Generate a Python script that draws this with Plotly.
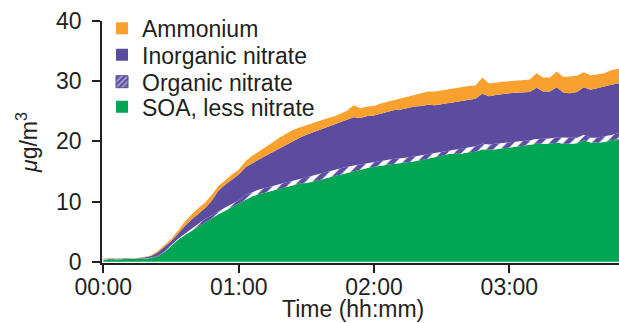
import plotly.graph_objects as go

# time in minutes since start
time_min = [0, 3, 6, 9, 12, 15, 18, 21, 24, 27, 30, 33, 36, 39, 42, 45, 48, 51, 54, 57,
            60, 63, 66, 69, 72, 75, 78, 81, 84, 87, 90, 93, 96, 99, 102, 105, 108, 111, 114, 117,
            120, 123, 126, 129, 132, 135, 138, 141, 144, 147, 150, 153, 156, 159, 162, 165, 168, 171, 174, 177,
            180, 183, 186, 189, 192, 195, 198, 201, 204, 207, 210, 213, 216, 219, 222, 225, 229]

soa = [0.40, 0.42, 0.40, 0.41, 0.42, 0.45, 0.50, 0.62, 0.90, 1.6, 2.6, 3.6, 4.4, 5.1, 5.9, 6.6, 7.3, 7.9, 8.5, 9.1,
       9.6, 10.3, 10.9, 11.2, 11.5, 11.7, 12.0, 12.3, 12.6, 13.0, 13.1, 13.3, 13.6, 13.9, 14.2, 14.5, 14.8, 15.0, 15.3, 15.6,
       15.8, 16.0, 16.1, 16.3, 16.4, 16.5, 16.7, 16.9, 17.1, 17.3, 17.6, 17.9, 17.9, 18.0, 18.2, 18.3, 18.7, 18.6, 18.7, 18.9,
       19.0, 19.1, 19.3, 19.4, 19.6, 19.6, 19.6, 19.8, 19.6, 19.6, 19.7, 20.2, 19.8, 19.8, 19.9, 20.2, 20.4]
org_nitrate = [0.05, 0.05, 0.05, 0.05, 0.05, 0.05, 0.05, 0.06, 0.10, 0.10, 0.15, 0.2, 0.2, 0.3, 0.4, 0.5, 0.4, 0.5, 0.5, 0.5,
               0.6, 0.8, 0.7, 0.8, 0.8, 0.9, 0.9, 0.8, 0.8, 0.8, 1.0, 1.0, 1.0, 1.0, 1.0, 1.0, 1.0, 1.0, 0.9, 0.8,
               0.8, 0.8, 0.8, 0.8, 0.8, 0.8, 0.8, 0.8, 0.8, 0.7, 0.6, 0.5, 0.7, 0.8, 0.8, 0.9, 0.9, 0.9, 0.9, 0.8,
               0.8, 0.8, 0.8, 0.8, 0.8, 0.8, 0.9, 0.9, 1.0, 1.0, 0.9, 0.9, 0.8, 0.8, 0.9, 0.9, 1.0]
inorg_nitrate = [0.05, 0.05, 0.05, 0.05, 0.05, 0.10, 0.15, 0.27, 0.5, 0.7, 0.65, 0.8, 1.3, 1.6, 1.7, 1.8, 2.4, 3.4, 3.8, 4.0,
                 4.3, 4.6, 4.8, 5.0, 5.3, 5.6, 6.0, 6.4, 6.6, 6.8, 7.0, 7.2, 7.4, 7.4, 7.5, 7.6, 7.7, 8.0, 7.7, 7.8,
                 7.7, 7.8, 8.0, 8.1, 8.1, 8.3, 8.3, 8.2, 8.2, 8.0, 8.0, 8.0, 8.0, 8.0, 8.0, 7.9, 8.3, 8.0, 8.1, 8.2,
                 8.2, 8.2, 8.1, 8.0, 8.5, 7.9, 7.8, 8.3, 7.5, 7.4, 7.6, 7.9, 8.0, 8.2, 8.3, 8.3, 8.3]
ammonium = [0.05, 0.05, 0.05, 0.05, 0.05, 0.05, 0.10, 0.10, 0.25, 0.3, 0.35, 0.5, 0.7, 0.8, 0.9, 0.9, 1.0, 0.8, 0.8, 0.9,
            0.8, 1.0, 1.2, 1.3, 1.5, 1.6, 1.7, 1.8, 1.9, 1.7, 1.6, 1.6, 1.4, 1.5, 1.4, 1.5, 1.6, 2.0, 1.6, 1.6,
            1.6, 1.7, 1.7, 1.7, 1.9, 1.9, 1.9, 2.1, 2.2, 2.3, 2.3, 2.3, 2.3, 2.2, 2.2, 2.2, 2.7, 2.1, 2.1, 2.0,
            2.0, 2.0, 2.1, 2.1, 2.4, 2.3, 2.3, 2.6, 2.6, 2.8, 2.7, 2.5, 2.4, 2.3, 2.2, 2.4, 2.4]

tick_vals = [0, 60, 120, 180]
tick_text = ["00:00", "01:00", "02:00", "03:00"]
y_ticks = [0, 10, 20, 30, 40]

names = ["SOA, less nitrate", "Organic nitrate", "Inorganic nitrate", "Ammonium"]
series = [soa, org_nitrate, inorg_nitrate, ammonium]
colors = ["#00a651", "#5b4c9f", "#5b4c9f", "#f8a12e"]
legends = ["legend4", "legend3", "legend2", "legend"]

FONT = "Liberation Sans, Arial, Helvetica, sans-serif"
INK = "#231f20"
FS = 23

fig = go.Figure()
for name, vals, col in zip(names, series, colors):
    kw = {}
    if name == "Organic nitrate":
        kw["fillpattern"] = dict(shape="/", fgcolor="#ffffff", bgcolor=col, size=10,
                                 solidity=0.5, fillmode="replace")
    fig.add_trace(go.Scatter(x=time_min, y=vals, name=name, mode="lines", stackgroup="one",
                             line=dict(width=0, color=col), fillcolor=col, showlegend=False,
                             hoverinfo="skip", **kw))

# legend entries
for name, col, lg in zip(names, colors, legends):
    marker = dict(color=col, line=dict(width=0))
    if name == "Organic nitrate":
        marker = dict(color=col, line=dict(width=1, color=col),
                      pattern=dict(shape="/", fgcolor="white", bgcolor=col, size=5, solidity=0.45))
    fig.add_trace(go.Bar(x=[None], y=[None], name=name, marker=marker, legend=lg, showlegend=True))

leg_common = dict(xanchor="left", yanchor="middle", bgcolor="rgba(0,0,0,0)",
                  font=dict(family=FONT, size=FS, color=INK), borderwidth=0)
ys = [0.97, 0.86, 0.749, 0.645]
layout_legends = {}
for lg, yy in zip(["legend", "legend2", "legend3", "legend4"], ys):
    layout_legends[lg] = dict(x=0.0, y=yy, **leg_common)

fig.update_layout(
    width=619, height=323,
    margin=dict(l=102, r=0, t=21, b=60, autoexpand=False),
    paper_bgcolor="white", plot_bgcolor="white",
    font=dict(family=FONT, size=FS, color=INK),
    **layout_legends,
    xaxis=dict(range=[-0.6, 228.6], tickvals=tick_vals, ticktext=tick_text,
               showgrid=False, zeroline=False, showline=True, linecolor=INK, linewidth=1.5,
               ticks="outside", ticklen=8, tickwidth=1.5, tickcolor=INK, ticklabelstandoff=-5,
               tickfont=dict(size=FS)),
    yaxis=dict(range=[-0.2, 40], tickvals=y_ticks, showgrid=False, zeroline=False,
               showline=True, linecolor=INK, linewidth=1.5,
               ticks="outside", ticklen=8, tickwidth=1.5, tickcolor=INK, ticklabelstandoff=6,
               tickfont=dict(size=FS),
               title=dict(text="<i>μ</i>g/m<sup>3</sup>", font=dict(size=FS), standoff=12)),
    annotations=[dict(text="Time (hh:mm)", xref="paper", yref="paper", x=0.4855, y=0,
                      xanchor="center", yanchor="bottom", yshift=-60, showarrow=False,
                      borderpad=0, font=dict(family=FONT, size=FS, color=INK))],
    showlegend=True,
)

fig.write_html("out.html")
